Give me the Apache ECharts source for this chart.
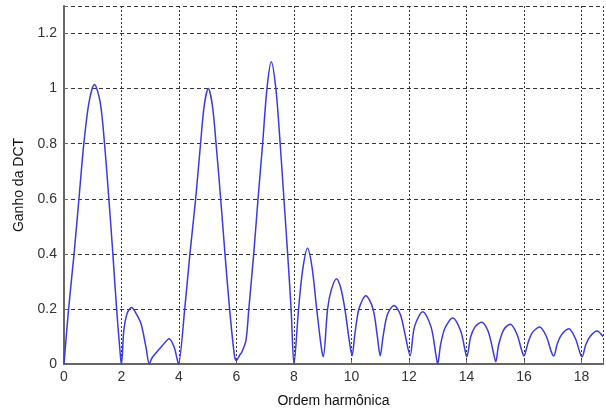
<!DOCTYPE html>
<html>
<head>
<meta charset="utf-8">
<script src="https://cdn.jsdelivr.net/npm/echarts@6/dist/echarts.min.js"></script>
<style>
  html, body { margin: 0; padding: 0; background: #fff; }
  #chart { width: 606px; height: 413px; }
</style>
</head>
<body>
<div id="chart"></div>
<script>
// Harmonic order (x) and DCT gain (y) of the frequency response
const harmonicOrder = [
  0, 0.16, 0.35, 0.52, 0.69, 0.87, 1.06, 1.26, 1.41, 1.56, 1.70, 1.83, 1.97, 2.0,
  2.08, 2.2, 2.35, 2.5, 2.68, 2.85, 2.97,
  3.05, 3.2, 3.43, 3.66, 3.83, 3.92, 3.98,
  4.2, 4.38, 4.58, 4.75, 4.88, 5.02, 5.16, 5.29, 5.45, 5.60, 5.76, 5.93, 6.0,
  6.1, 6.19, 6.33, 6.43, 6.6, 6.75, 6.91, 7.06, 7.21, 7.37, 7.52, 7.65, 7.78, 7.90, 8.0,
  8.16, 8.3, 8.47, 8.63, 8.79, 8.95, 9.02,
  9.17, 9.3, 9.48, 9.63, 9.77, 9.93, 10.02,
  10.12, 10.26, 10.5, 10.75, 10.9, 11.0,
  11.1, 11.25, 11.48, 11.7, 11.88, 12.04,
  12.19, 12.48, 12.77, 12.94, 13.0,
  13.1, 13.25, 13.52, 13.8, 13.95, 14.01,
  14.15, 14.3, 14.52, 14.75, 14.92, 15.02,
  15.12, 15.3, 15.52, 15.75, 15.92, 16.0,
  16.15, 16.3, 16.54, 16.78, 16.95, 17.04,
  17.15, 17.3, 17.56, 17.8, 17.95, 18.02,
  18.15, 18.3, 18.54, 18.75
];
const dctGain = [
  0, 0.2, 0.4, 0.6, 0.8, 0.95, 1.015, 0.95, 0.8, 0.6, 0.4, 0.2, 0.02, 0,
  0.12, 0.185, 0.205, 0.185, 0.146, 0.062, 0,
  0.02, 0.04, 0.068, 0.092, 0.062, 0.025, 0,
  0.2, 0.4, 0.6, 0.8, 0.94, 1.0, 0.94, 0.8, 0.6, 0.4, 0.2, 0.03, 0.012,
  0.03, 0.044, 0.086, 0.2, 0.4, 0.6, 0.8, 1.0, 1.098, 1.0, 0.8, 0.6, 0.4, 0.2, 0,
  0.2, 0.34, 0.42, 0.35, 0.2, 0.06, 0.026,
  0.2, 0.27, 0.31, 0.275, 0.2, 0.08, 0.03,
  0.11, 0.2, 0.248, 0.2, 0.1, 0.03,
  0.1, 0.18, 0.212, 0.18, 0.1, 0.03,
  0.134, 0.19, 0.134, 0.032, 0,
  0.07, 0.13, 0.167, 0.12, 0.05, 0.026,
  0.1, 0.135, 0.152, 0.12, 0.05, 0.008,
  0.07, 0.125, 0.144, 0.11, 0.05, 0.029,
  0.08, 0.115, 0.134, 0.1, 0.045, 0.029,
  0.07, 0.105, 0.128, 0.09, 0.04, 0.026,
  0.07, 0.1, 0.12, 0.1
];
const xTicks = [0, 2, 4, 6, 8, 10, 12, 14, 16, 18];
const yTicks = [0, 0.2, 0.4, 0.6, 0.8, 1, 1.2];

const points = harmonicOrder.map((x, i) => [x, dctGain[i]]);
const FONT = '"Liberation Sans", Arial, sans-serif';

const chart = echarts.init(document.getElementById('chart'), null, { renderer: 'canvas' });
chart.setOption({
  animation: false,
  backgroundColor: '#ffffff',
  grid: { left: 64, right: 0, top: 6, bottom: 46, containLabel: false },
  xAxis: [{
    type: 'value', min: 0, max: 18.75, interval: 2,
    name: 'Ordem harmônica', nameLocation: 'middle', nameGap: 30,
    nameTextStyle: { fontFamily: FONT, fontSize: 14, color: '#111' },
    axisLine: { show: true, onZero: false, lineStyle: { color: '#666', width: 2 } },
    axisTick: { show: true, inside: true, length: 4, lineStyle: { color: '#666' } },
    axisLabel: {
      fontFamily: FONT, fontSize: 14, color: '#333', margin: 6,
      formatter: v => (xTicks.indexOf(v) >= 0 ? String(v) : '')
    },
    splitLine: { show: true, lineStyle: { color: '#333', type: [2, 2], width: 1 } }
  }, {
    type: 'value', position: 'top', min: 0, max: 18.75, interval: 2,
    axisLine: { show: true, lineStyle: { color: '#666', width: 2 } },
    axisTick: { show: false }, axisLabel: { show: false }, splitLine: { show: false }
  }],
  yAxis: {
    type: 'value', min: 0, max: 1.3, interval: 0.2,
    name: 'Ganho da DCT', nameLocation: 'middle', nameGap: 37, nameRotate: 90,
    nameTextStyle: { fontFamily: FONT, fontSize: 14, color: '#111' },
    axisLine: { show: true, lineStyle: { color: '#666', width: 2 } },
    axisTick: { show: true, inside: true, length: 4, lineStyle: { color: '#666' } },
    axisLabel: {
      fontFamily: FONT, fontSize: 14, color: '#333', margin: 7,
      formatter: v => {
        const r = Math.round(v * 10) / 10;
        return yTicks.indexOf(r) >= 0 && Math.abs(r - v) < 1e-6 ? String(r) : '';
      }
    },
    splitLine: { show: true, lineStyle: { color: '#333', type: [4, 3], width: 1 } }
  },
  series: [{
    type: 'line',
    data: points,
    smooth: 0.3,
    showSymbol: false,
    lineStyle: { color: '#3a3ae0', width: 1.5 },
    clip: true
  }]
});
</script>
</body>
</html>
